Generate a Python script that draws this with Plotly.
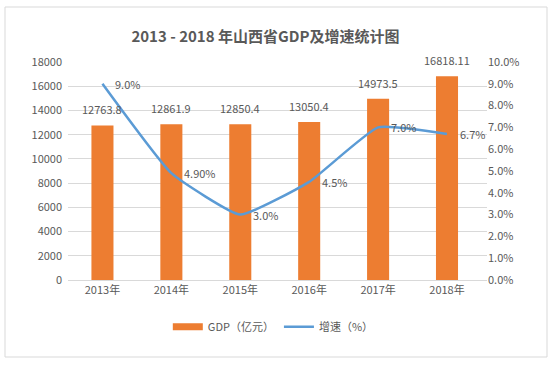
import plotly.graph_objects as go

years = ["2013年", "2014年", "2015年", "2016年", "2017年", "2018年"]
gdp = [12763.8, 12861.9, 12850.4, 13050.4, 14973.5, 16818.11]
gdp_labels = ["12763.8", "12861.9", "12850.4", "13050.4", "14973.5", "16818.11"]
growth = [0.090, 0.049, 0.030, 0.045, 0.070, 0.067]
growth_labels = ["9.0%", "4.90%", "3.0%", "4.5%", "7.0%", "6.7%"]

FONT = "Noto Sans CJK SC, Open Sans, sans-serif"
GRAY = "#595959"
ORANGE = "#ED7D31"
BLUE = "#5B9BD5"

fig = go.Figure()
fig.add_trace(go.Bar(
    x=years, y=gdp, name="GDP（亿元）", showlegend=False,
    marker=dict(color=ORANGE, line=dict(width=0)),
))
# legend entry for the bars (wide rectangle like the reference)
fig.add_trace(go.Scatter(
    x=[None], y=[None], name="GDP（亿元）", mode="lines",
    line=dict(color=ORANGE, width=7),
))
fig.add_trace(go.Scatter(
    x=years, y=growth, name="增速（%）", yaxis="y2",
    mode="lines", line=dict(color=BLUE, width=2.5, shape="spline", smoothing=0.4),
))

annotations = []
for yr, v, lab in zip(years, gdp, gdp_labels):
    annotations.append(dict(x=yr, y=v, xref="x", yref="y", text=lab, showarrow=False,
                            xanchor="center", yanchor="bottom", yshift=6,
                            font=dict(size=11, color=GRAY, family=FONT)))
for yr, g, lab in zip(years, growth, growth_labels):
    annotations.append(dict(x=yr, y=g, xref="x", yref="y2", text=lab, showarrow=False,
                            xanchor="left", yanchor="middle", xshift=11,
                            font=dict(size=11, color=GRAY, family=FONT)))

fig.update_layout(
    width=553, height=367,
    margin=dict(l=68, r=66, t=62, b=87, autoexpand=False),
    paper_bgcolor="white", plot_bgcolor="white",
    font=dict(family=FONT, size=11, color=GRAY),
    title=dict(text="<b>2013 - 2018 年山西省GDP及增速统计图</b>", x=0.48, xanchor="center",
               y=1 - 37 / 367, yanchor="middle", font=dict(size=15, color=GRAY, family=FONT)),
    bargap=0.68,
    showlegend=True,
    legend=dict(orientation="h", x=0.49, xanchor="center", y=-0.215, yanchor="middle",
                font=dict(size=11, color=GRAY, family=FONT), itemwidth=30),
    xaxis=dict(showgrid=False, showline=True, linecolor="#D9D9D9", ticks="",
               tickfont=dict(size=11, color=GRAY)),
    yaxis=dict(range=[0, 18000], dtick=2000, tickformat="d", showgrid=True, gridcolor="#D9D9D9",
               zeroline=False, tickfont=dict(size=11, color=GRAY), ticksuffix="  "),
    yaxis2=dict(range=[0, 0.10], dtick=0.01, tickformat=".1%", overlaying="y", side="right",
                showgrid=False, zeroline=False, tickfont=dict(size=11, color=GRAY)),
    annotations=annotations,
    shapes=[dict(type="rect", xref="paper", yref="paper",
                 x0=(5 - 68) / 419, x1=(547 - 68) / 419,
                 y0=(280 - 357) / 218, y1=(280 - 7) / 218,
                 line=dict(color="#D9D9D9", width=1), layer="below")],
)

fig.write_html("out.html", config={"displayModeBar": False},
               post_script="document.body.style.margin='0';document.body.style.overflow='hidden';")
